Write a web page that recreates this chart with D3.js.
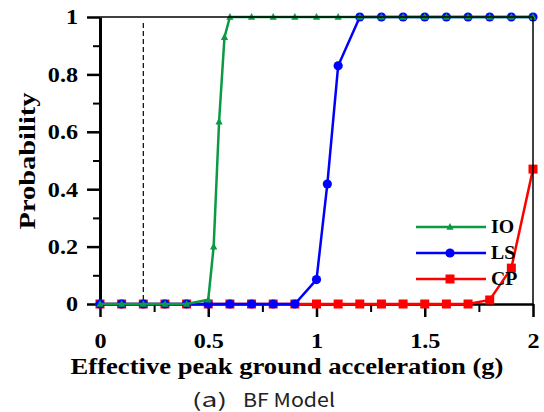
<!DOCTYPE html>
<html>
<head>
<meta charset="utf-8">
<script src="https://cdn.jsdelivr.net/npm/d3@7"></script>
<style>
  body { margin: 0; background: #fff; }
  svg { display: block; }
</style>
</head>
<body>
<script>
const w = 544; // SVG width
const h = 412; // SVG height

// data
const ioX = [0, 0.1, 0.2, 0.3, 0.4, 0.5, 0.525, 0.55, 0.575, 0.6, 0.7, 0.8, 0.9, 1.0, 1.1, 1.2, 1.3, 1.4, 1.5, 1.6, 1.7, 1.8, 1.9, 2.0];
const ioY = [0, 0, 0, 0, 0, 0.015, 0.2, 0.635, 0.93, 1, 1, 1, 1, 1, 1, 1, 1, 1, 1, 1, 1, 1, 1, 1];
const lsX = [0, 0.1, 0.2, 0.3, 0.4, 0.5, 0.6, 0.7, 0.8, 0.9, 1.0, 1.05, 1.1, 1.2, 1.3, 1.4, 1.5, 1.6, 1.7, 1.8, 1.9, 2.0];
const lsY = [0, 0, 0, 0, 0, 0, 0, 0, 0, 0, 0.085, 0.418, 0.83, 1, 1, 1, 1, 1, 1, 1, 1, 1];
const cpX = [0, 0.1, 0.2, 0.3, 0.4, 0.5, 0.6, 0.7, 0.8, 0.9, 1.0, 1.1, 1.2, 1.3, 1.4, 1.5, 1.6, 1.7, 1.8, 1.9, 2.0];
const cpY = [0, 0, 0, 0, 0, 0, 0, 0, 0, 0, 0, 0, 0, 0, 0, 0, 0, 0, 0.014, 0.125, 0.47];

const xTicks = [0, 0.5, 1, 1.5, 2];
const xMinor = [0.25, 0.75, 1.25, 1.75];
const yTicks = [0, 0.2, 0.4, 0.6, 0.8, 1];
const yMinor = [0.1, 0.3, 0.5, 0.7, 0.9];
const markLine = 0.2; // dashed reference line

const series = [
  { name: "CP", xs: cpX, ys: cpY, color: "#ff0000", shape: "square" },
  { name: "LS", xs: lsX, ys: lsY, color: "#0000ff", shape: "circle" },
  { name: "IO", xs: ioX, ys: ioY, color: "#0a9a44", shape: "triangle" }
];

const xScale = d3.scaleLinear().domain([0, 2]).range([100, 533]);
const yScale = d3.scaleLinear().domain([0, 1]).range([304, 17]);

const svg = d3.select("body").append("svg")
  .attr("width", w).attr("height", h);

const serif = "Liberation Serif";

// stretch serif text a bit wider, like the original figure
function stretch(sel, k) {
  sel.each(function() {
    const len = this.getComputedTextLength();
    d3.select(this).attr("textLength", len * k).attr("lengthAdjust", "spacingAndGlyphs");
  });
}

// minor ticks
svg.append("g")
  .attr("transform", "translate(0," + yScale(0) + ")")
  .call(d3.axisBottom(xScale).tickValues(xMinor).tickFormat("").tickSize(8).tickSizeOuter(0))
  .call(g => g.select(".domain").remove())
  .call(g => g.selectAll("line").attr("stroke-width", 2));
svg.append("g")
  .attr("transform", "translate(" + xScale(0) + ",0)")
  .call(d3.axisLeft(yScale).tickValues(yMinor).tickFormat("").tickSize(7).tickSizeOuter(0))
  .call(g => g.select(".domain").remove())
  .call(g => g.selectAll("line").attr("stroke-width", 2));

// major axes
const xAxis = svg.append("g")
  .attr("transform", "translate(0," + yScale(0) + ")")
  .call(d3.axisBottom(xScale).tickValues(xTicks).tickFormat(d3.format("")).tickSize(13).tickSizeOuter(0));
xAxis.select(".domain").attr("stroke-width", 2.5);
xAxis.selectAll("line").attr("stroke-width", 2.5);
xAxis.selectAll("text")
  .attr("y", 44).attr("dy", null)
  .attr("font-family", serif).attr("font-weight", "bold").attr("font-size", 21).attr("fill", "#000")
  .call(stretch, 1.15);

const yAxis = svg.append("g")
  .attr("transform", "translate(" + xScale(0) + ",0)")
  .call(d3.axisLeft(yScale).tickValues(yTicks).tickFormat(d3.format("")).tickSize(13).tickSizeOuter(0));
yAxis.select(".domain").attr("stroke-width", 3);
yAxis.selectAll("line").attr("stroke-width", 2.5);
yAxis.selectAll("text")
  .attr("x", -22).attr("dy", "0.33em")
  .attr("font-family", serif).attr("font-weight", "bold").attr("font-size", 21).attr("fill", "#000")
  .call(stretch, 1.15);

// dashed line
svg.append("line")
  .attr("x1", xScale(markLine)).attr("x2", xScale(markLine))
  .attr("y1", 23).attr("y2", yScale(0))
  .attr("stroke", "#000").attr("stroke-width", 1.2).attr("stroke-dasharray", "5,3");

function drawMarker(g, shape, x, y, color) {
  if (shape === "square") {
    g.append("rect").attr("x", x - 4.5).attr("y", y - 4.5).attr("width", 9).attr("height", 9).attr("fill", color);
  } else if (shape === "circle") {
    g.append("circle").attr("cx", x).attr("cy", y).attr("r", 4.6).attr("fill", color);
  } else {
    g.append("path").attr("d", `M${x},${y - 4}L${x + 3.6},${y + 2.8}L${x - 3.6},${y + 2.8}Z`).attr("fill", color);
  }
}

const line = d3.line().x(d => xScale(d[0])).y(d => yScale(d[1]));

series.forEach(s => {
  const pts = s.xs.map((x, i) => [x, s.ys[i]]);
  const g = svg.append("g");
  g.append("path").datum(pts).attr("d", line)
    .attr("fill", "none").attr("stroke", s.color).attr("stroke-width", 2.5);
  pts.forEach(p => drawMarker(g, s.shape, xScale(p[0]), yScale(p[1]), s.color));
});

// frame top and right
svg.append("line").attr("x1", xScale(0)).attr("x2", xScale(2)).attr("y1", yScale(1)).attr("y2", yScale(1))
  .attr("stroke", "#000").attr("stroke-width", 1.5);
svg.append("line").attr("x1", xScale(2)).attr("x2", xScale(2)).attr("y1", yScale(1)).attr("y2", yScale(0))
  .attr("stroke", "#000").attr("stroke-width", 1.5);

// legend
const legendOrder = ["IO", "LS", "CP"];
legendOrder.forEach((name, i) => {
  const s = series.find(d => d.name === name);
  const y = 227 + i * 26;
  const g = svg.append("g");
  g.append("line").attr("x1", 416).attr("x2", 486).attr("y1", y).attr("y2", y)
    .attr("stroke", s.color).attr("stroke-width", 2.5);
  drawMarker(g, s.shape, 450, y, s.color);
  g.append("text").attr("x", 491).attr("y", y + 6).text(name)
    .attr("font-family", serif).attr("font-weight", "bold").attr("font-size", 18)
    .call(stretch, 1.1);
});

// axis titles
svg.append("text")
  .attr("x", 287).attr("y", 374).attr("text-anchor", "middle")
  .attr("font-family", serif).attr("font-weight", "bold").attr("font-size", 23)
  .attr("textLength", 433).attr("lengthAdjust", "spacingAndGlyphs")
  .text("Effective peak ground acceleration (g)");

svg.append("text")
  .attr("transform", "translate(35,161) rotate(-90)").attr("text-anchor", "middle")
  .attr("font-family", serif).attr("font-weight", "bold").attr("font-size", 23)
  .attr("textLength", 137).attr("lengthAdjust", "spacingAndGlyphs")
  .text("Probability");

// caption
const capFont = "'Noto Sans CJK KR', 'Noto Sans', sans-serif";
svg.append("text").attr("x", 192).attr("y", 407)
  .attr("font-family", capFont).attr("font-size", 19).attr("fill", "#222")
  .attr("textLength", 35).attr("lengthAdjust", "spacingAndGlyphs")
  .text("(a)");
svg.append("text").attr("x", 243).attr("y", 407)
  .attr("font-family", capFont).attr("font-size", 19).attr("fill", "#222")
  .attr("textLength", 92).attr("lengthAdjust", "spacingAndGlyphs")
  .text("BF Model");
</script>
</body>
</html>
